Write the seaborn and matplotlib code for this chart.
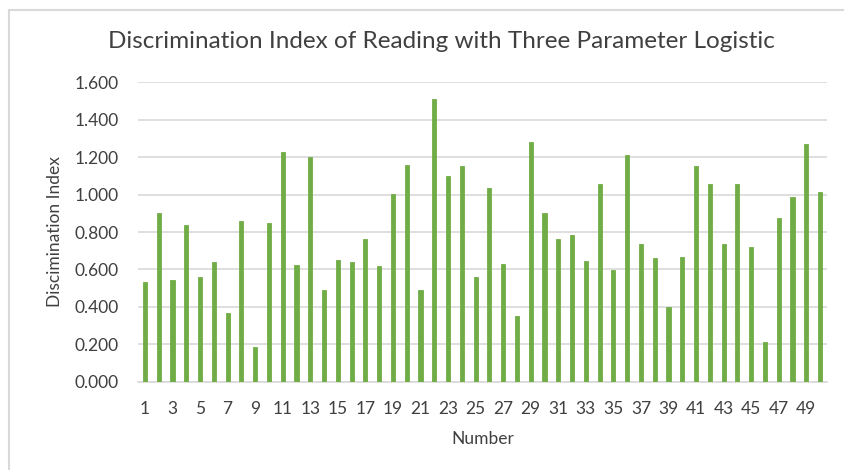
import matplotlib
matplotlib.use("Agg")
import matplotlib.pyplot as plt
import seaborn as sns
import pandas as pd
from matplotlib.lines import Line2D

numbers = list(range(1, 51))
disc_index = [0.535, 0.900, 0.545, 0.839, 0.561, 0.640, 0.369, 0.861, 0.187, 0.850,
              1.226, 0.624, 1.203, 0.490, 0.650, 0.640, 0.761, 0.617, 1.003, 1.158,
              0.490, 1.511, 1.098, 1.151, 0.561, 1.037, 0.629, 0.352, 1.281, 0.900,
              0.764, 0.784, 0.645, 1.058, 0.597, 1.213, 0.734, 0.661, 0.401, 0.666,
              1.153, 1.058, 0.734, 1.058, 0.722, 0.212, 0.877, 0.987, 1.270, 1.016]
y_ticks = [0.0, 0.2, 0.4, 0.6, 0.8, 1.0, 1.2, 1.4, 1.6]
title = "Discrimination Index of Reading with Three Parameter Logistic"
x_label = "Number"
y_label = "Discimination Index"

df = pd.DataFrame({"Number": [str(n) for n in numbers], "Index": disc_index})

sns.set_theme(style="white")
plt.rcParams['font.family'] = ['Lato', 'DejaVu Sans']

fig = plt.figure(figsize=(8.44, 4.70), dpi=100)
ax = fig.add_axes([138/844, 1 - 381.7/470, (827-138)/844, (381.7-82.3)/470])

sns.barplot(data=df, x="Number", y="Index", color="#70AD47", width=0.3,
            saturation=1, ax=ax, zorder=3, edgecolor="#70AD47", linewidth=0.6)

ax.set_ylim(0, 1.6)
ax.set_xlim(-0.5, len(numbers) - 0.5)
ax.set_yticks(y_ticks)
ax.set_yticklabels([f"{v:.3f}" for v in y_ticks])
ax.set_xticks(range(0, len(numbers), 2))
ax.set_xticklabels([str(n) for n in numbers[::2]])
ax.yaxis.grid(True, color="#D9D9D9", linewidth=1.2, zorder=0)
ax.xaxis.grid(False)
for s in ["top", "right", "left"]:
    ax.spines[s].set_visible(False)
ax.spines["bottom"].set_color("#D9D9D9")
ax.spines["bottom"].set_linewidth(1.2)
ax.tick_params(axis="both", length=0, labelsize=12.5, colors="#404040")
ax.tick_params(axis="y", pad=14)
ax.tick_params(axis="x", pad=14)

ax.set_xlabel(x_label, fontsize=12.5, color="#404040", labelpad=10)
ax.set_ylabel(y_label, fontsize=12.5, color="#404040", labelpad=8)
fig.text(441/844, 1 - 42/470, title, fontsize=17.5, color="#404040",
         ha="center", va="center")

# chart frame (left and top edges visible)
fig.add_artist(Line2D([9/844, 9/844], [0, 1 - 10/470], transform=fig.transFigure,
                      color="#D9D9D9", linewidth=1.5))
fig.add_artist(Line2D([9/844, 1], [1 - 10/470, 1 - 10/470], transform=fig.transFigure,
                      color="#D9D9D9", linewidth=1.5))

fig.savefig("out.png", dpi=100)
